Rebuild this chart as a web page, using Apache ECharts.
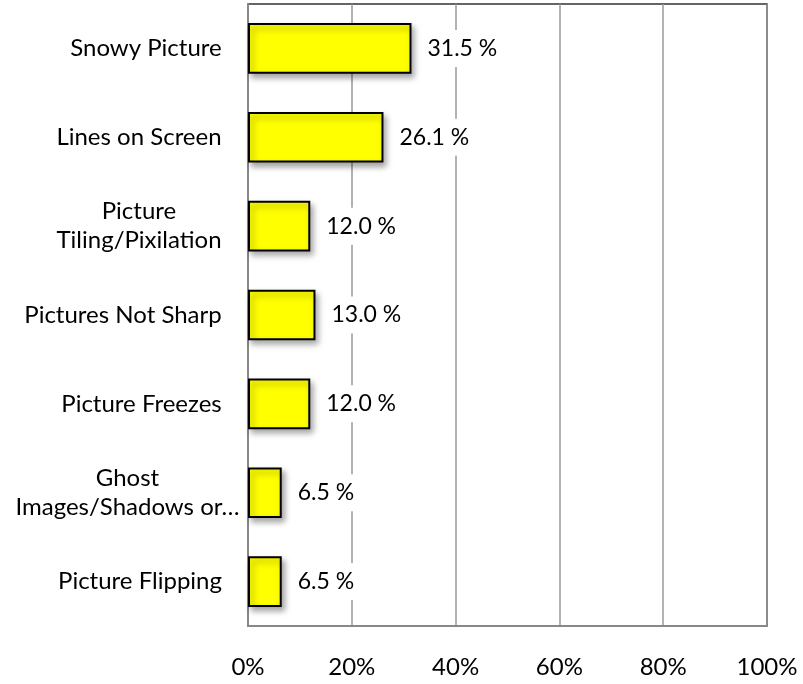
<!DOCTYPE html>
<html><head><meta charset="utf-8">
<script src="https://cdn.jsdelivr.net/npm/echarts@6/dist/echarts.min.js"></script>
<style>html,body{margin:0;padding:0;background:#fff}#c{width:803px;height:684px}</style>
</head><body><div id="c"></div>
<script>
const categories = ["Snowy Picture","Lines on Screen","Picture\nTiling/Pixilation","Pictures Not Sharp","Picture Freezes","Ghost\nImages/Shadows or…","Picture Flipping"];
const values = [31.5, 26.1, 12.0, 13.0, 12.0, 6.5, 6.5];
const tickLabels = ["0%","20%","40%","60%","80%","100%"];

const FONT = 'Lato, "Open Sans", sans-serif';
const FS = 24;
const cv = document.createElement('canvas').getContext('2d');
cv.font = FS + 'px ' + FONT;
const rich = {};
categories.forEach((c, i) => {
  const lines = c.split('\n');
  const w = Math.max(...lines.map(l => cv.measureText(l).width));
  const pad = c.indexOf('…') >= 0 ? 0 : 18;
  rich['c' + i] = {width: Math.ceil(w), align: 'center', padding: [0, pad, 0, 0],
    fontSize: FS, fontFamily: FONT, color: '#000', lineHeight: 29};
});

const chart = echarts.init(document.getElementById('c'));
chart.setOption({
  animation:false,
  grid:{left:248,right:36,top:4,bottom:58,show:true,borderColor:'#333',borderWidth:1.5},
  xAxis:{type:'value',min:0,max:100,interval:20,
    axisLine:{show:true,lineStyle:{color:'#888',width:2}},
    axisTick:{show:false},
    splitLine:{show:true,lineStyle:{color:'#999',width:1.5}},
    axisLabel:{margin:29,fontSize:FS,fontFamily:FONT,color:'#000',
      formatter:(v)=>tickLabels[Math.round(v/20)]}
  },
  yAxis:{type:'category',inverse:true,data:categories,
    axisLine:{show:true,lineStyle:{color:'#888',width:2}},
    axisTick:{show:false},
    axisLabel:{margin:8,fontSize:FS,fontFamily:FONT,color:'#000',lineHeight:29,align:'right',
      formatter:(v)=>{const i=categories.indexOf(v);return v.split('\n').map(l=>'{c'+i+'|'+l+'}').join('\n');},
      rich: rich}
  },
  series:[{type:'bar',data:values,barWidth:'57%',
    itemStyle:{color:'#ffff00',borderColor:'#000',borderWidth:2,
      shadowColor:'rgba(0,0,0,0.35)',shadowBlur:6,shadowOffsetX:3,shadowOffsetY:4},
    label:{show:true,position:'right',distance:12,fontSize:23,fontFamily:FONT,color:'#000',
      backgroundColor:'#fff',padding:[7,4],
      formatter:(p)=>p.value.toFixed(1)+' %'}
  }]
});
</script></body></html>
